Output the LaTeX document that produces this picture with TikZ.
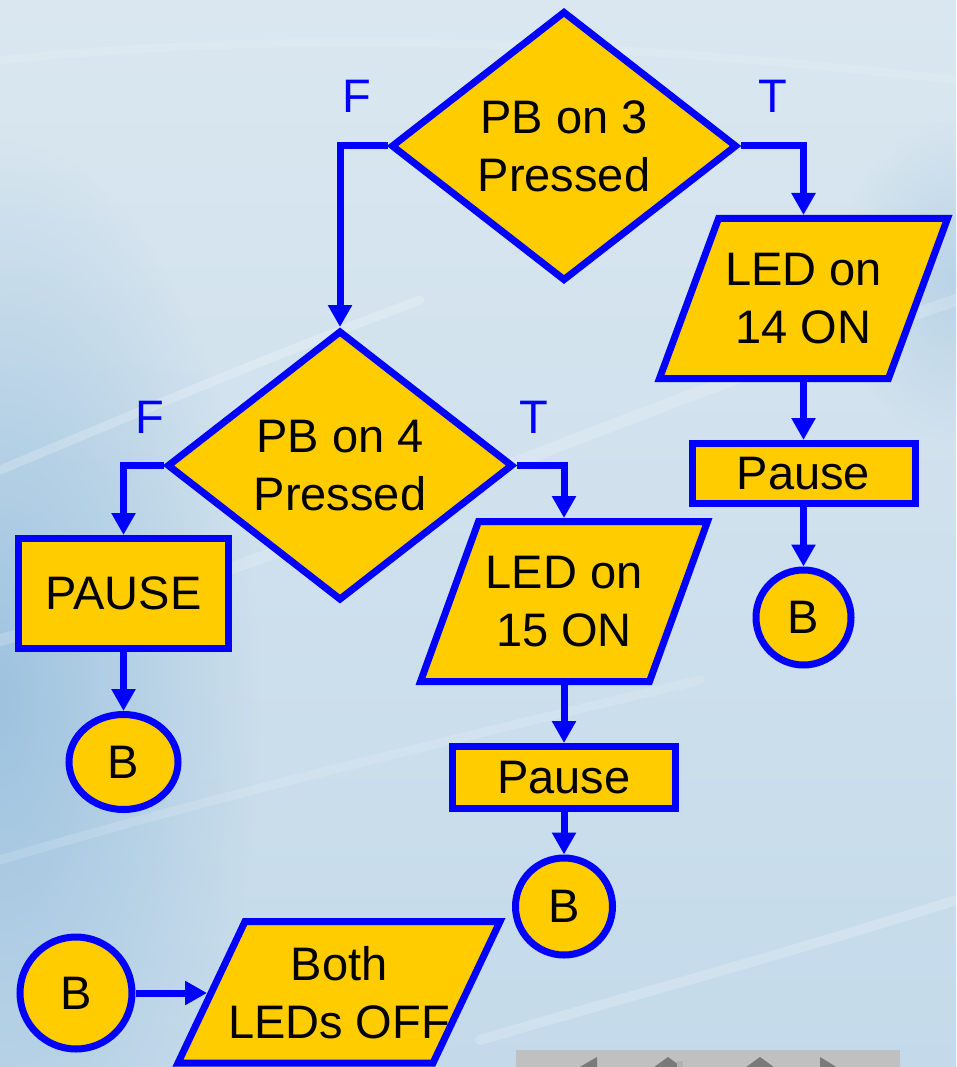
\documentclass[tikz,border=0pt]{standalone}
\usepackage{fontspec}
\setmainfont{Liberation Sans}
\usetikzlibrary{shapes.geometric,arrows.meta,fadings}
\definecolor{fgold}{HTML}{FFCC00}
\definecolor{fblue}{HTML}{0000FF}
\definecolor{bgtop}{HTML}{DAE7F0}
\definecolor{bgbot}{HTML}{C4DAEA}
\definecolor{bgleft}{HTML}{9EC3DF}
\definecolor{barg}{HTML}{C0C0C0}
\definecolor{bard}{HTML}{7A7A7A}
\tikzfading[name=softspot, inner color=transparent!0, outer color=transparent!100]
\begin{document}
\begin{tikzpicture}[x=1pt,y=-1pt,
  txt/.style={font=\fontsize{47}{58}\selectfont,align=center,inner sep=0pt},
  box/.style={txt,draw=fblue,fill=fgold,line width=7pt},
  decision/.style={box,diamond,aspect=1.3,minimum width=346pt,minimum height=270pt},
  rbox/.style={box,rectangle},
  conn/.style={box,circle},
  pshape/.style={draw=fblue,fill=fgold,line width=7pt},
  ptext/.style={txt,rectangle,outer sep=0pt},
  arr/.style={draw=fblue,line width=7pt,-{Triangle[width=23pt,length=22pt]}},
  lab/.style={txt,text=fblue,anchor=base},
  streak/.style={white,line cap=round}
]
\useasboundingbox (0,0) rectangle (956,1067);
% background
\begin{scope}
\clip (0,0) rectangle (956,1067);
\shade[top color=bgtop,bottom color=bgbot] (0,0) rectangle (956,1067);
\fill[bgleft,path fading=softspot] (0,700) ellipse [x radius=260, y radius=560];
\fill[bgleft,opacity=0.5,path fading=softspot] (956,280) ellipse [x radius=120, y radius=160];
\draw[streak,opacity=0.22,line width=9pt] (0,470) .. controls (120,420) and (260,360) .. (420,300);
\draw[streak,opacity=0.18,line width=12pt] (0,640) .. controls (300,560) and (600,420) .. (956,300);
\draw[streak,opacity=0.15,line width=9pt] (0,860) .. controls (200,800) and (450,740) .. (700,680);
\draw[streak,opacity=0.2,line width=10pt] (480,1040) .. controls (650,990) and (800,950) .. (956,900);
\draw[streak,opacity=0.12,line width=8pt] (0,60) .. controls (300,30) and (600,40) .. (956,80);
% navigation bar
\fill[barg] (516,1050) rectangle (900,1067);
\fill[bard] (578,1068) -- (597,1057) -- (597,1080) -- cycle;
\fill[bard] (668,1057) -- (686,1070) -- (650,1070) -- cycle;
\fill[gray!60] (677,1061) rectangle (683,1067);
\fill[bard] (760,1057) -- (778,1070) -- (742,1070) -- cycle;
\fill[bard] (838,1068) -- (820,1057) -- (820,1080) -- cycle;
\end{scope}
% decisions
\node[decision] (d1) at (564,146) {PB on 3\\Pressed};
\node[decision] (d2) at (340,465.5) {PB on 4\\Pressed};
% labels
\node[lab] (f1) at (357,113) {F};
\node[lab] (t1) at (773,113) {T};
\node[lab] (f2) at (150,433) {F};
\node[lab] (t2) at (534,433) {T};
% parallelograms
\filldraw[pshape] (718.5,218.5) -- (947.5,218.5) -- (888.5,378.5) -- (659.5,378.5) -- cycle;
\node[ptext,minimum width=229pt,minimum height=167pt] (p1) at (803.5,298.5) {LED on\\14 ON};
\filldraw[pshape] (478.5,521.5) -- (707.5,521.5) -- (649.5,681.5) -- (420.5,681.5) -- cycle;
\node[ptext,minimum width=229pt,minimum height=167pt] (p2) at (564,601.5) {LED on\\15 ON};
\filldraw[pshape] (245,921.5) -- (500,921.5) -- (433,1063) -- (178,1063) -- cycle;
\node[ptext,minimum width=255pt,minimum height=148pt] (p3) at (339,993) {Both\\LEDs OFF};
\coordinate (p3in) at (207,993);
% boxes
\node[rbox,minimum width=223pt,minimum height=60pt] (s1) at (803.5,473.5) {Pause};
\node[rbox,minimum width=223pt,minimum height=62pt] (s2) at (564,777.5) {Pause};
\node[rbox,minimum width=210pt,minimum height=110pt] (s3) at (123.5,593.5) {PAUSE};
% connectors B
\node[conn,minimum size=95pt] (b1) at (803.5,617.5) {B};
\node[box,ellipse,minimum width=109pt,minimum height=95pt] (b2) at (123.5,762) {B};
\node[conn,minimum size=97pt] (b3) at (564,906.5) {B};
\node[conn,minimum size=112pt] (b4) at (76,993) {B};
% arrows
\draw[arr] (d1.west) -| (d2.north);
\draw[arr] (d1.east) -| (p1.north);
\draw[arr] (p1.south) -- (s1.north);
\draw[arr] (s1.south) -- (b1.north);
\draw[arr] (d2.west) -| (s3.north);
\draw[arr] (d2.east) -| (p2.north);
\draw[arr] (s3.south) -- (b2.north);
\draw[arr] (p2.south) -- (s2.north);
\draw[arr] (s2.south) -- (b3.north);
\draw[arr] (b4.east) -- (p3in);
\end{tikzpicture}
\end{document}
